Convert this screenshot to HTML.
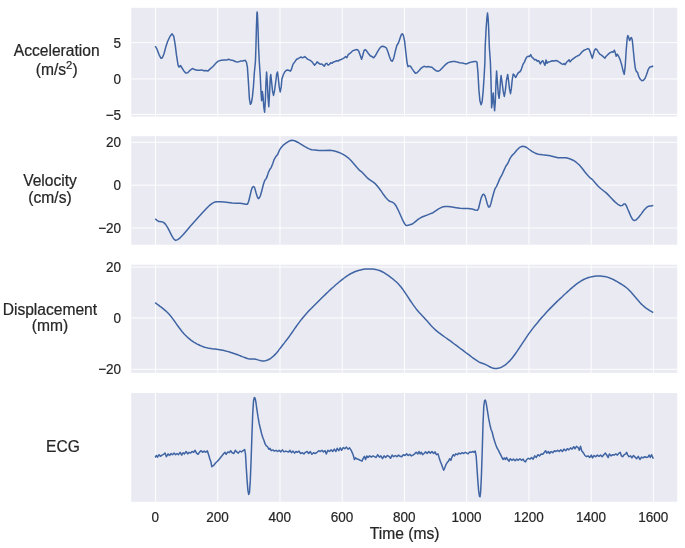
<!DOCTYPE html>
<html lang="en">
<head>
<meta charset="utf-8">
<title>Acceleration, Velocity, Displacement, ECG</title>
<style>
html,body{margin:0;padding:0;background:#fff;}
body{width:685px;height:548px;overflow:hidden;}
</style>
</head>
<body>
<svg width="685" height="548" viewBox="0 0 685 548" style="display:block">
<rect width="685" height="548" fill="#fff"/>
<g>
<rect x="131.2" y="7.8" width="546.0" height="108.7" fill="#EAEAF2"/>
<path d="M155.50 7.8V116.5M217.74 7.8V116.5M279.98 7.8V116.5M342.22 7.8V116.5M404.46 7.8V116.5M466.70 7.8V116.5M528.94 7.8V116.5M591.18 7.8V116.5M653.42 7.8V116.5M131.2 42.60H677.2M131.2 78.90H677.2M131.2 114.40H677.2" stroke="#fff" stroke-width="0.95" fill="none"/>
<path d="M155.2 46.2 L157.0 49.2 L159.0 54.6 L161.0 58.3 L162.4 57.8 L164.0 53.8 L166.0 46.2 L167.7 41.2 L170.1 36.2 L172.1 33.8 L173.7 36.2 L175.1 44.2 L176.5 55.2 L178.1 65.3 L179.1 67.1 L180.5 65.5 L181.7 67.5 L183.7 70.7 L185.7 73.1 L187.7 72.7 L190.1 70.3 L192.3 68.5 L194.5 69.5 L197.1 70.3 L199.7 70.3 L201.8 69.9 L203.8 70.7 L205.8 70.5 L207.8 71.1 L210.2 68.9 L213.2 66.3 L215.8 63.3 L218.2 61.1 L221.2 60.3 L224.2 60.1 L226.6 60.1 L228.6 59.3 L230.6 60.1 L233.2 60.5 L235.9 61.7 L237.9 62.1 L240.3 61.1 L242.7 60.9 L245.3 60.3 L246.4 62.1 L247.4 67.1 L248.4 82.0 L249.4 98.8 L250.4 104.3 L251.4 102.8 L252.4 96.9 L253.4 86.9 L254.4 72.0 L255.4 62.1 L255.9 47.8 L256.4 28.0 L256.9 14.1 L257.1 11.9 L257.4 14.1 L258.0 28.0 L258.6 47.8 L259.3 61.7 L260.3 77.0 L261.0 91.9 L261.6 100.8 L262.3 91.4 L263.0 95.9 L263.8 106.8 L264.6 112.2 L265.3 101.8 L266.0 82.0 L266.6 72.0 L267.3 82.0 L268.0 96.9 L268.8 106.8 L269.6 91.9 L270.3 77.0 L270.8 74.5 L271.6 82.0 L272.5 90.9 L273.5 95.4 L274.5 90.9 L275.7 82.0 L276.7 74.0 L277.5 72.0 L278.2 77.0 L279.2 86.9 L280.2 91.9 L281.2 86.9 L281.9 79.0 L283.2 75.0 L284.7 72.0 L286.1 70.5 L287.6 70.0 L289.1 70.5 L290.4 71.2 L291.4 69.5 L292.1 67.1 L293.1 64.1 L294.6 62.1 L296.6 59.3 L298.0 58.7 L299.4 57.8 L301.0 57.0 L302.6 57.8 L304.7 56.6 L306.1 57.8 L307.5 59.1 L309.1 59.9 L310.7 60.7 L312.1 61.9 L313.5 63.9 L314.7 65.1 L316.1 63.5 L317.1 61.9 L318.7 63.1 L320.1 64.3 L321.5 63.9 L323.1 65.1 L324.3 66.3 L325.5 63.9 L326.7 63.3 L328.1 65.1 L329.5 64.3 L330.7 62.7 L332.1 63.3 L333.5 61.9 L335.1 61.5 L336.7 60.7 L338.2 61.1 L339.6 59.9 L341.2 59.5 L342.8 58.7 L344.2 57.8 L345.6 56.6 L346.8 57.8 L348.2 54.6 L350.2 53.2 L352.2 51.2 L354.2 50.2 L356.2 49.6 L357.6 49.8 L358.8 51.2 L360.2 55.2 L361.6 59.3 L362.8 55.2 L364.0 50.6 L365.2 49.6 L366.4 50.6 L368.2 53.2 L370.2 55.8 L372.3 56.8 L373.7 57.8 L375.3 55.8 L377.3 52.2 L379.3 48.8 L381.3 46.6 L382.9 46.2 L384.9 47.0 L386.5 48.2 L387.9 51.8 L389.3 56.2 L390.9 60.3 L392.3 61.3 L393.7 58.3 L395.3 51.2 L396.9 45.2 L398.3 43.2 L399.7 39.2 L401.3 34.6 L402.3 33.8 L403.3 35.2 L404.6 41.2 L405.8 52.2 L407.0 62.3 L408.0 66.7 L409.4 65.9 L410.6 66.3 L411.8 68.3 L413.4 70.7 L415.4 73.3 L417.0 72.7 L419.0 70.7 L421.0 68.3 L423.0 66.9 L424.0 66.3 L426.0 66.9 L428.0 66.5 L430.0 66.9 L432.0 67.3 L434.0 69.1 L436.0 70.7 L438.0 71.3 L440.0 70.3 L442.5 67.7 L445.1 64.9 L447.7 62.9 L450.1 61.9 L452.5 61.5 L455.1 61.5 L457.1 62.1 L459.7 62.7 L462.1 62.9 L464.1 63.5 L466.5 63.9 L469.1 62.7 L471.7 61.9 L474.2 61.5 L475.8 61.5 L477.0 62.1 L477.9 72.0 L478.9 89.9 L479.9 100.8 L481.1 104.8 L482.1 101.8 L483.1 91.9 L484.1 77.0 L484.9 62.1 L485.2 46.2 L486.2 27.2 L486.9 18.1 L487.5 13.1 L488.1 18.1 L488.6 27.2 L489.4 48.2 L490.4 62.1 L490.9 77.0 L491.4 96.9 L491.6 107.8 L492.4 101.8 L493.2 92.9 L493.8 101.8 L494.6 110.8 L495.3 101.8 L496.0 82.0 L496.6 71.0 L497.4 82.0 L498.3 93.9 L499.1 98.3 L499.8 91.9 L500.6 79.0 L501.1 75.5 L502.0 82.0 L503.3 91.9 L504.3 96.4 L505.3 90.9 L506.5 80.0 L507.7 74.5 L508.5 80.0 L509.5 88.9 L510.5 93.7 L511.3 88.9 L512.2 80.0 L513.2 74.0 L514.2 75.0 L515.7 77.5 L517.2 74.5 L518.5 72.5 L519.7 72.0 L521.1 70.0 L522.1 67.1 L523.1 64.1 L524.4 62.1 L525.3 59.9 L526.7 57.2 L528.3 56.2 L529.5 56.6 L530.7 54.6 L531.9 57.2 L533.3 58.3 L534.7 59.9 L535.9 59.5 L537.3 61.3 L538.7 60.7 L540.3 63.9 L541.8 61.3 L542.8 60.7 L544.0 63.3 L545.0 65.3 L546.0 59.9 L547.0 63.3 L548.4 61.9 L549.6 61.9 L551.0 61.3 L552.4 60.7 L554.0 61.1 L555.6 60.5 L557.0 60.7 L558.4 61.7 L560.0 62.7 L561.6 63.9 L563.0 64.3 L564.0 63.5 L565.1 64.7 L566.5 62.3 L568.1 60.9 L569.1 59.9 L570.1 61.9 L571.7 59.9 L573.7 58.3 L575.7 56.8 L577.7 55.8 L579.1 55.2 L580.5 53.8 L582.1 51.8 L584.1 50.2 L586.1 49.4 L587.7 48.6 L589.1 49.2 L590.1 51.8 L591.3 55.2 L592.3 58.3 L593.3 54.6 L594.5 50.2 L595.7 48.8 L596.9 49.6 L598.2 51.8 L599.8 54.2 L601.4 55.2 L603.2 56.6 L604.8 58.3 L606.2 56.2 L608.2 54.2 L610.2 52.6 L611.8 51.8 L613.2 52.2 L614.4 50.2 L615.4 53.2 L616.2 56.2 L617.2 54.2 L618.6 56.2 L620.2 59.9 L621.8 65.3 L623.2 71.3 L624.2 74.3 L625.2 66.3 L626.2 50.2 L627.2 38.2 L627.8 35.6 L628.6 37.2 L629.6 40.6 L630.6 38.2 L631.5 37.6 L632.3 40.2 L633.3 50.2 L634.3 60.3 L635.3 68.3 L636.3 71.3 L637.5 72.3 L638.7 76.3 L640.3 79.3 L641.9 80.7 L643.5 80.3 L645.1 78.3 L646.7 74.3 L648.3 69.3 L649.5 67.3 L651.1 66.7 L652.3 66.3 L653.3 66.5" stroke="#3F64A4" stroke-width="1.5" fill="none" stroke-linejoin="round" stroke-linecap="butt"/>
</g>
<g>
<rect x="131.2" y="136.2" width="546.0" height="108.5" fill="#EAEAF2"/>
<path d="M155.50 136.2V244.7M217.74 136.2V244.7M279.98 136.2V244.7M342.22 136.2V244.7M404.46 136.2V244.7M466.70 136.2V244.7M528.94 136.2V244.7M591.18 136.2V244.7M653.42 136.2V244.7M131.2 142.30H677.2M131.2 185.20H677.2M131.2 228.00H677.2" stroke="#fff" stroke-width="0.95" fill="none"/>
<path d="M155.2 218.7 L157.0 220.4 L159.0 221.6 L161.6 221.8 L163.6 222.4 L165.6 224.4 L168.1 228.4 L170.1 232.4 L172.1 236.4 L174.1 239.4 L175.7 240.4 L177.7 239.6 L180.1 237.8 L183.1 234.8 L186.1 231.2 L190.1 226.4 L194.1 222.0 L198.1 217.5 L202.2 213.1 L206.2 208.7 L209.2 205.7 L212.2 203.3 L214.6 202.1 L217.2 201.7 L220.2 201.7 L224.2 202.1 L228.2 202.5 L232.2 203.1 L236.3 203.3 L240.3 203.3 L243.3 203.7 L245.9 204.3 L247.5 204.3 L248.7 201.3 L249.9 196.3 L251.3 190.3 L252.5 187.1 L253.7 186.5 L254.7 187.9 L255.9 192.3 L257.1 196.3 L258.3 198.7 L258.9 198.4 L260.4 195.8 L261.8 190.7 L263.3 184.8 L264.7 180.5 L266.2 178.6 L267.4 175.6 L268.4 172.4 L269.8 169.5 L271.3 167.3 L272.8 163.4 L274.2 159.3 L275.7 156.8 L277.6 154.6 L279.3 150.5 L280.8 147.9 L283.0 145.4 L285.9 143.2 L288.8 141.3 L291.7 140.3 L294.7 140.8 L297.6 142.2 L301.2 144.4 L304.9 146.6 L308.5 148.6 L311.5 149.7 L315.1 150.1 L318.8 150.5 L324.6 150.4 L329.7 150.2 L333.4 150.8 L337.0 151.7 L341.2 153.4 L345.2 155.6 L348.2 157.8 L351.2 160.8 L354.2 164.2 L357.2 167.8 L359.6 170.4 L361.6 171.8 L364.2 174.6 L367.2 177.8 L370.2 180.2 L373.3 182.2 L375.7 184.2 L378.3 187.3 L380.9 190.7 L383.3 194.3 L385.7 197.5 L388.3 200.3 L390.3 201.5 L392.3 202.1 L394.3 203.5 L396.3 206.3 L398.3 210.3 L400.3 214.7 L402.3 219.3 L404.4 223.4 L405.8 225.2 L407.4 225.4 L409.8 224.8 L412.4 224.0 L415.4 221.6 L418.4 219.1 L421.4 217.3 L424.0 216.3 L427.0 215.1 L430.0 213.9 L433.0 212.7 L436.0 210.7 L439.0 208.7 L442.1 207.1 L445.1 206.5 L448.1 206.5 L452.1 207.1 L456.1 207.7 L460.1 208.3 L464.1 208.5 L468.1 208.5 L472.1 209.1 L475.2 209.9 L477.4 210.3 L478.6 208.3 L479.8 203.3 L481.2 197.9 L482.6 194.7 L483.8 194.3 L485.0 195.9 L486.2 199.9 L487.4 204.3 L488.6 207.1 L489.8 206.7 L491.0 203.3 L492.2 198.3 L493.6 193.3 L495.0 188.7 L496.6 186.3 L498.2 182.6 L499.8 178.6 L501.8 175.2 L503.8 170.6 L505.8 166.2 L507.9 163.2 L509.9 158.6 L511.9 155.6 L514.3 153.2 L516.7 150.3 L519.3 147.7 L521.9 146.3 L524.3 146.5 L526.7 147.5 L529.3 149.5 L532.3 151.7 L535.3 153.2 L538.3 154.2 L542.4 154.8 L546.4 155.2 L550.4 155.8 L551.0 156.0 L554.0 156.8 L558.0 157.8 L562.0 157.8 L566.1 157.8 L569.7 158.8 L573.1 160.2 L576.1 162.2 L579.1 164.8 L582.1 168.2 L585.1 172.2 L588.1 175.8 L590.5 178.2 L592.5 179.6 L595.1 182.8 L597.7 185.8 L600.6 188.5 L603.2 190.5 L606.2 192.9 L609.2 195.9 L612.2 199.1 L615.2 202.1 L617.8 204.3 L620.2 205.7 L622.2 205.5 L623.8 204.1 L625.2 203.9 L626.4 205.9 L627.8 209.3 L629.4 212.9 L631.0 216.7 L632.7 219.6 L634.3 220.6 L636.3 219.8 L638.7 217.3 L641.3 213.9 L643.9 210.3 L646.3 207.7 L648.3 206.3 L650.7 205.9 L653.3 205.5" stroke="#3F64A4" stroke-width="1.5" fill="none" stroke-linejoin="round" stroke-linecap="butt"/>
</g>
<g>
<rect x="131.2" y="264.7" width="546.0" height="108.2" fill="#EAEAF2"/>
<path d="M155.50 264.7V372.9M217.74 264.7V372.9M279.98 264.7V372.9M342.22 264.7V372.9M404.46 264.7V372.9M466.70 264.7V372.9M528.94 264.7V372.9M591.18 264.7V372.9M653.42 264.7V372.9M131.2 267.10H677.2M131.2 317.90H677.2M131.2 369.30H677.2" stroke="#fff" stroke-width="0.95" fill="none"/>
<path d="M155.2 302.6 L156.7 303.8 L158.2 304.9 L159.7 306.1 L161.2 307.2 L162.7 308.4 L164.2 309.6 L165.7 310.9 L167.2 312.2 L168.7 313.8 L170.2 315.5 L171.7 317.4 L173.2 319.4 L174.7 321.5 L176.2 323.6 L177.7 325.7 L179.2 327.8 L180.7 329.8 L182.2 331.7 L183.7 333.4 L185.2 335.0 L186.7 336.5 L188.2 337.9 L189.7 339.1 L191.2 340.3 L192.7 341.3 L194.2 342.3 L195.7 343.2 L197.2 344.1 L198.7 344.8 L200.2 345.5 L201.7 346.1 L203.2 346.7 L204.7 347.2 L206.2 347.6 L207.7 348.0 L209.2 348.3 L210.7 348.5 L212.2 348.8 L213.7 348.9 L215.2 349.1 L216.7 349.3 L218.2 349.5 L219.7 349.7 L221.2 350.0 L222.7 350.3 L224.2 350.6 L225.7 351.0 L227.2 351.4 L228.7 351.8 L230.2 352.2 L231.7 352.7 L233.2 353.2 L234.7 353.7 L236.2 354.2 L237.7 354.8 L239.2 355.4 L240.7 356.0 L242.2 356.6 L243.7 357.1 L245.2 357.7 L246.7 358.3 L248.2 358.7 L249.7 359.0 L251.2 359.1 L252.7 359.1 L254.2 359.1 L255.7 359.2 L257.2 359.6 L258.7 360.1 L260.2 360.5 L261.7 360.9 L263.2 361.0 L264.7 360.9 L266.2 360.5 L267.7 360.0 L269.2 359.3 L270.7 358.3 L272.2 357.2 L273.7 355.9 L275.2 354.4 L276.7 352.7 L278.2 350.9 L279.7 348.9 L281.2 347.0 L282.7 345.0 L284.2 343.1 L285.7 341.1 L287.2 339.2 L288.7 337.2 L290.2 335.1 L291.7 333.0 L293.2 330.8 L294.7 328.6 L296.2 326.5 L297.7 324.4 L299.2 322.4 L300.7 320.4 L302.2 318.5 L303.7 316.7 L305.2 314.9 L306.7 313.2 L308.2 311.6 L309.7 310.0 L311.2 308.5 L312.7 307.0 L314.2 305.5 L315.7 304.0 L317.2 302.5 L318.7 301.0 L320.2 299.5 L321.7 298.0 L323.2 296.5 L324.7 295.1 L326.2 293.6 L327.7 292.2 L329.2 290.8 L330.7 289.4 L332.2 288.0 L333.7 286.7 L335.2 285.3 L336.7 284.0 L338.2 282.8 L339.7 281.5 L341.2 280.3 L342.7 279.1 L344.2 278.0 L345.7 276.9 L347.2 275.8 L348.7 274.9 L350.2 274.0 L351.7 273.2 L353.2 272.5 L354.7 271.8 L356.2 271.2 L357.7 270.7 L359.2 270.2 L360.7 269.9 L362.2 269.6 L363.7 269.3 L365.2 269.1 L366.7 269.0 L368.2 269.0 L369.7 269.0 L371.2 269.0 L372.7 269.1 L374.2 269.3 L375.7 269.5 L377.2 269.9 L378.7 270.3 L380.2 270.8 L381.7 271.5 L383.2 272.2 L384.7 273.1 L386.2 274.1 L387.7 275.1 L389.2 276.2 L390.7 277.3 L392.2 278.5 L393.7 279.7 L395.2 281.0 L396.7 282.3 L398.2 283.8 L399.7 285.4 L401.2 287.2 L402.7 289.2 L404.2 291.4 L405.7 293.6 L407.2 295.9 L408.7 298.2 L410.2 300.5 L411.7 302.7 L413.2 304.9 L414.7 306.9 L416.2 308.9 L417.7 310.7 L419.2 312.5 L420.7 314.1 L422.2 315.7 L423.7 317.3 L425.2 318.9 L426.7 320.6 L428.2 322.3 L429.7 324.0 L431.2 325.7 L432.7 327.3 L434.2 328.7 L435.7 330.1 L437.2 331.4 L438.7 332.6 L440.2 333.7 L441.7 334.8 L443.2 335.9 L444.7 337.0 L446.2 338.0 L447.7 339.1 L449.2 340.1 L450.7 341.2 L452.2 342.3 L453.7 343.5 L455.2 344.6 L456.7 345.7 L458.2 346.8 L459.7 348.0 L461.2 349.1 L462.7 350.2 L464.2 351.3 L465.7 352.5 L467.2 353.6 L468.7 354.7 L470.2 355.8 L471.7 357.0 L473.2 358.1 L474.7 359.2 L476.2 360.2 L477.7 361.2 L479.2 362.1 L480.7 362.8 L482.2 363.3 L483.7 363.8 L485.2 364.4 L486.7 365.1 L488.2 365.9 L489.7 366.8 L491.2 367.5 L492.7 368.1 L494.2 368.4 L495.7 368.5 L497.2 368.4 L498.7 368.1 L500.2 367.7 L501.7 367.1 L503.2 366.2 L504.7 365.3 L506.2 364.1 L507.7 362.8 L509.2 361.4 L510.7 359.7 L512.2 358.0 L513.7 356.0 L515.2 354.0 L516.7 351.9 L518.2 349.7 L519.7 347.4 L521.2 345.1 L522.7 342.8 L524.2 340.6 L525.7 338.3 L527.2 336.1 L528.7 333.9 L530.2 331.9 L531.7 329.9 L533.2 327.9 L534.7 326.0 L536.2 324.2 L537.7 322.4 L539.2 320.6 L540.7 318.8 L542.2 317.1 L543.7 315.4 L545.2 313.7 L546.7 312.0 L548.2 310.4 L549.7 308.9 L551.2 307.4 L552.7 305.9 L554.2 304.4 L555.7 302.9 L557.2 301.4 L558.7 300.0 L560.2 298.6 L561.7 297.2 L563.2 295.7 L564.7 294.3 L566.2 293.0 L567.7 291.6 L569.2 290.3 L570.7 288.9 L572.2 287.6 L573.7 286.3 L575.2 285.1 L576.7 283.9 L578.2 282.8 L579.7 281.8 L581.2 280.9 L582.7 280.0 L584.2 279.3 L585.7 278.6 L587.2 278.0 L588.7 277.5 L590.2 277.1 L591.7 276.7 L593.2 276.4 L594.7 276.2 L596.2 276.1 L597.7 276.0 L599.2 276.0 L600.7 276.0 L602.2 276.2 L603.7 276.4 L605.2 276.6 L606.7 277.0 L608.2 277.4 L609.7 278.0 L611.2 278.6 L612.7 279.2 L614.2 280.0 L615.7 280.8 L617.2 281.7 L618.7 282.6 L620.2 283.5 L621.7 284.4 L623.2 285.3 L624.7 286.4 L626.2 287.5 L627.7 288.8 L629.2 290.2 L630.7 291.8 L632.2 293.5 L633.7 295.2 L635.2 297.0 L636.7 298.8 L638.2 300.6 L639.7 302.3 L641.2 303.9 L642.7 305.3 L644.2 306.6 L645.7 307.8 L647.2 308.8 L648.7 309.8 L650.2 310.8 L651.7 311.7 L653.2 312.6 L653.2 312.6" stroke="#3F64A4" stroke-width="1.5" fill="none" stroke-linejoin="round" stroke-linecap="butt"/>
</g>
<g>
<rect x="131.2" y="393.0" width="546.0" height="108.8" fill="#EAEAF2"/>
<path d="M155.50 393.0V501.8M217.74 393.0V501.8M279.98 393.0V501.8M342.22 393.0V501.8M404.46 393.0V501.8M466.70 393.0V501.8M528.94 393.0V501.8M591.18 393.0V501.8M653.42 393.0V501.8" stroke="#fff" stroke-width="0.95" fill="none"/>
<path d="M155.2 457.5 L156.4 455.5 L157.6 457.1 L159.0 454.7 L160.4 456.3 L162.0 455.1 L163.6 454.3 L165.0 453.1 L166.4 456.7 L168.1 453.9 L169.5 455.5 L171.1 453.5 L172.5 454.7 L174.1 453.1 L175.7 454.7 L177.1 453.5 L178.5 454.7 L180.1 452.3 L181.7 455.1 L183.1 452.7 L184.5 453.9 L186.1 451.5 L187.7 453.9 L189.1 452.3 L190.7 453.1 L192.1 451.5 L193.7 452.3 L195.1 450.3 L196.5 453.1 L198.1 454.3 L199.7 451.9 L201.2 450.7 L202.6 452.3 L204.2 451.1 L205.8 452.3 L207.4 450.9 L208.6 454.7 L209.8 458.7 L211.0 462.3 L211.8 466.7 L213.0 465.9 L214.2 464.7 L215.8 462.7 L217.4 461.3 L219.0 459.5 L220.6 457.5 L222.2 455.5 L223.8 453.5 L225.0 452.3 L226.2 454.3 L227.8 451.9 L229.4 452.7 L230.6 450.7 L232.2 452.7 L233.9 453.5 L235.3 450.3 L236.7 451.9 L238.3 453.1 L239.9 451.1 L241.5 451.9 L243.1 450.7 L244.7 449.5 L245.5 454.3 L246.3 468.3 L247.1 480.4 L247.9 490.4 L248.7 494.4 L249.5 492.4 L250.3 480.4 L251.1 460.3 L251.9 436.2 L252.7 414.2 L253.5 401.1 L254.3 397.5 L255.1 398.1 L255.9 402.1 L256.7 408.1 L257.9 416.2 L259.1 423.2 L260.3 428.2 L261.5 433.2 L262.7 437.2 L263.9 440.2 L265.1 443.9 L266.3 445.9 L267.6 446.7 L268.8 449.3 L270.0 448.3 L271.2 450.7 L272.8 449.9 L274.4 451.1 L276.0 450.3 L277.6 451.5 L279.2 450.3 L280.8 451.9 L282.4 449.9 L284.0 451.9 L285.6 451.1 L287.0 451.5 L288.6 451.9 L290.0 450.3 L291.4 452.7 L293.0 451.1 L294.6 453.1 L296.0 451.5 L297.4 452.3 L299.0 451.1 L300.6 453.5 L302.2 452.7 L303.9 453.9 L305.5 452.3 L307.1 451.5 L308.7 453.5 L310.3 451.5 L311.9 454.3 L313.5 452.7 L315.1 453.5 L317.1 452.3 L318.7 450.7 L320.3 451.5 L321.9 450.3 L323.5 451.9 L325.1 450.7 L326.3 453.9 L327.9 450.3 L329.5 451.5 L331.1 449.9 L332.7 451.5 L334.3 449.1 L335.9 451.5 L337.2 448.3 L338.8 450.7 L340.2 447.9 L341.6 450.3 L343.2 447.5 L344.8 448.7 L346.4 447.1 L348.0 449.1 L349.6 447.9 L351.2 450.3 L352.4 453.1 L353.6 456.3 L354.4 459.5 L355.6 457.9 L357.2 459.1 L358.8 459.5 L360.4 460.3 L362.0 461.1 L363.2 458.3 L364.4 456.3 L365.6 459.5 L366.8 455.9 L368.0 457.5 L369.6 455.9 L371.3 457.1 L372.9 455.9 L374.5 456.7 L376.1 457.5 L377.7 454.7 L379.3 457.1 L380.9 455.9 L382.5 458.7 L384.1 455.9 L385.7 457.5 L387.3 455.5 L388.9 456.3 L390.5 458.3 L392.1 455.1 L393.7 456.7 L395.3 455.5 L396.9 456.7 L398.5 455.1 L400.1 456.3 L401.7 456.7 L403.3 454.7 L405.0 455.5 L406.6 453.9 L408.2 455.5 L409.8 454.3 L411.4 455.9 L413.0 455.1 L414.6 453.9 L416.2 452.3 L417.8 453.9 L419.0 451.5 L420.2 453.9 L421.4 452.3 L422.6 454.7 L424.0 453.5 L425.6 451.9 L427.2 453.5 L428.8 451.5 L430.4 453.1 L432.0 451.5 L433.6 453.5 L435.0 451.9 L436.4 454.7 L438.0 453.9 L439.2 457.9 L440.4 461.5 L441.7 464.7 L442.9 468.3 L443.7 470.3 L444.9 467.5 L446.1 464.3 L447.3 462.3 L448.5 461.1 L449.7 458.7 L450.9 460.3 L452.1 456.7 L453.3 454.7 L454.5 455.9 L455.7 453.9 L457.3 454.7 L458.9 453.1 L460.5 453.9 L462.1 452.7 L463.7 453.5 L465.3 452.3 L466.9 453.1 L468.1 453.9 L469.7 451.9 L471.3 452.3 L472.9 451.5 L474.2 452.3 L475.2 451.1 L476.2 456.3 L477.0 468.3 L477.8 480.4 L478.6 490.4 L479.4 496.0 L480.0 496.8 L480.6 492.4 L481.4 476.4 L482.2 452.3 L483.0 424.2 L483.8 406.1 L484.6 400.5 L485.4 400.1 L486.2 403.1 L487.0 408.1 L487.8 413.2 L488.6 418.2 L489.8 424.2 L491.0 429.2 L492.2 432.2 L493.4 437.2 L494.6 441.2 L495.8 444.7 L497.0 447.9 L498.2 449.9 L499.4 452.3 L500.6 454.7 L501.8 457.1 L503.0 459.5 L504.2 457.9 L505.4 459.5 L506.6 457.5 L507.9 459.9 L509.1 461.1 L510.3 458.7 L511.9 460.3 L513.5 459.1 L515.1 460.7 L516.7 459.1 L518.3 460.3 L519.9 458.7 L521.5 460.3 L523.1 459.1 L524.3 461.1 L525.5 461.9 L526.7 459.5 L528.3 458.3 L529.9 459.1 L531.5 457.5 L533.1 459.1 L534.7 455.9 L536.3 457.5 L537.9 454.7 L539.5 455.9 L541.2 453.9 L542.8 454.3 L544.4 452.3 L545.6 450.7 L546.8 453.1 L548.4 451.5 L549.6 453.5 L551.2 451.5 L552.8 452.7 L554.4 450.7 L556.0 451.5 L557.6 450.3 L559.2 451.5 L560.8 449.9 L562.4 451.5 L564.0 449.1 L565.7 450.7 L567.3 448.7 L568.9 449.9 L570.5 447.9 L572.1 449.1 L573.7 446.7 L575.1 448.7 L576.5 446.3 L578.1 447.5 L579.3 450.3 L580.5 446.3 L581.7 450.7 L583.3 452.7 L584.9 455.5 L586.5 456.7 L588.1 455.9 L589.7 457.5 L591.3 455.1 L592.5 457.9 L594.1 455.5 L595.7 456.7 L597.3 455.1 L599.0 456.3 L600.6 455.1 L602.2 456.7 L603.8 454.7 L605.4 453.1 L607.0 455.5 L608.2 457.5 L609.4 453.9 L611.0 455.9 L612.6 454.7 L614.2 455.1 L615.8 453.9 L617.4 455.1 L619.0 453.1 L620.2 452.3 L621.4 455.9 L622.6 456.7 L624.2 454.7 L625.8 453.9 L626.6 452.3 L627.8 455.1 L629.0 456.7 L630.6 455.9 L631.9 457.9 L633.5 455.5 L635.1 457.1 L636.7 458.7 L638.3 456.3 L639.9 459.5 L641.5 457.1 L643.1 457.9 L644.7 456.7 L646.3 457.5 L647.9 457.1 L649.1 455.1 L650.3 457.5 L651.5 454.7 L652.3 456.3 L653.3 458.7" stroke="#3F64A4" stroke-width="1.5" fill="none" stroke-linejoin="round" stroke-linecap="butt"/>
</g>
<g font-family="'Liberation Sans', Arial, sans-serif" fill="#262626" stroke="#262626" stroke-width="0.22">
<g font-size="14.5" text-anchor="end">
<text transform="translate(121.05 47.7) scale(0.932 1)">5</text>
<text transform="translate(121.05 84.0) scale(0.932 1)">0</text>
<text transform="translate(121.05 119.5) scale(0.932 1)">−5</text>
<text transform="translate(121.05 147.4) scale(0.932 1)">20</text>
<text transform="translate(121.05 190.3) scale(0.932 1)">0</text>
<text transform="translate(121.05 233.1) scale(0.932 1)">−20</text>
<text transform="translate(121.05 272.2) scale(0.932 1)">20</text>
<text transform="translate(121.05 323.0) scale(0.932 1)">0</text>
<text transform="translate(121.05 374.4) scale(0.932 1)">−20</text>
</g>
<g font-size="14.5" text-anchor="middle">
<text transform="translate(155.3 521.6) scale(0.932 1)">0</text>
<text transform="translate(217.5 521.6) scale(0.932 1)">200</text>
<text transform="translate(279.8 521.6) scale(0.932 1)">400</text>
<text transform="translate(342.0 521.6) scale(0.932 1)">600</text>
<text transform="translate(404.3 521.6) scale(0.932 1)">800</text>
<text transform="translate(466.5 521.6) scale(0.932 1)">1000</text>
<text transform="translate(528.7 521.6) scale(0.932 1)">1200</text>
<text transform="translate(591.0 521.6) scale(0.932 1)">1400</text>
<text transform="translate(653.2 521.6) scale(0.932 1)">1600</text>
</g>
<g font-size="15.6" text-anchor="middle">
<text x="56.7" y="55.5">Acceleration</text>
<text x="56.7" y="74.6">(m/s<tspan dy="-5.5" font-size="11.3">2</tspan><tspan dy="5.5">)</tspan></text>
<text x="50.0" y="186.1">Velocity</text>
<text x="50.0" y="202.6">(cm/s)</text>
<text x="49.9" y="314.5">Displacement</text>
<text x="49.9" y="330.7">(mm)</text>
<text x="62.9" y="451.6">ECG</text>
<text x="404.6" y="538.6">Time (ms)</text>
</g>
</g>
</svg>
</body>
</html>
